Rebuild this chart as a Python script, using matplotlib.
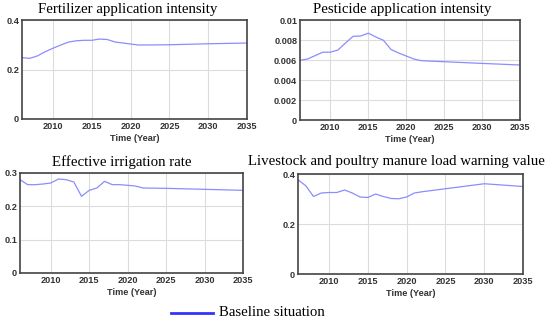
import matplotlib.pyplot as plt

years = [2006, 2007, 2008, 2009, 2010, 2011, 2012, 2013, 2014, 2015, 2016,
         2017, 2018, 2019, 2020, 2021, 2022, 2025, 2030, 2035]

fertilizer = [0.248, 0.245, 0.255, 0.272, 0.286, 0.299, 0.311, 0.316, 0.318, 0.318, 0.323,
              0.321, 0.311, 0.307, 0.303, 0.299, 0.299, 0.300, 0.304, 0.307]
pesticide = [0.00597, 0.0061, 0.00644, 0.00678, 0.00678, 0.0070, 0.0077, 0.00837, 0.0084, 0.00868, 0.0083,
             0.00797, 0.00705, 0.0067, 0.0064, 0.0061, 0.00593, 0.00583, 0.00566, 0.0055]
irrigation = [0.280, 0.265, 0.265, 0.267, 0.270, 0.282, 0.280, 0.273, 0.230, 0.248, 0.255,
              0.275, 0.265, 0.265, 0.263, 0.261, 0.255, 0.254, 0.251, 0.248]
livestock = [0.377, 0.353, 0.310, 0.324, 0.326, 0.326, 0.336, 0.324, 0.308, 0.306, 0.320,
             0.310, 0.302, 0.301, 0.308, 0.324, 0.329, 0.341, 0.361, 0.350]

titles = ["Fertilizer application intensity", "Pesticide application intensity",
          "Effective irrigation rate", "Livestock and poultry manure load warning value"]
yticks = [[0, 0.2, 0.4],
          [0, 0.002, 0.004, 0.006, 0.008, 0.01],
          [0, 0.1, 0.2, 0.3],
          [0, 0.2, 0.4]]
ytick_labels = [["0", "0.2", "0.4"],
                ["0", "0.002", "0.004", "0.006", "0.008", "0.01"],
                ["0", "0.1", "0.2", "0.3"],
                ["0", "0.2", "0.4"]]
xticks = [2010, 2015, 2020, 2025, 2030, 2035]
series = [fertilizer, pesticide, irrigation, livestock]

W, H = 550, 323
fig = plt.figure(figsize=(W / 100, H / 100), dpi=100)

# axes boxes in pixels: left, top, right, bottom
boxes = [(22, 20, 247, 119), (300, 20, 520, 120), (20, 173, 243, 273), (298, 174, 523, 274)]
title_pos = [(128, 9), (402, 10), (122, 162), (396, 162)]

for i in range(4):
    l, t, r, b = boxes[i]
    ax = fig.add_axes([l / W, 1 - b / H, (r - l) / W, (b - t) / H])
    ax.plot(years, series[i], color="#8c8cff", lw=0.9)
    ax.set_xlim(2006, 2035)
    ax.set_ylim(yticks[i][0], yticks[i][-1])
    ax.set_xticks(xticks)
    ax.set_yticks(yticks[i])
    ax.set_yticklabels(ytick_labels[i])
    ax.grid(True, color="#dcdcdc", lw=0.8)
    ax.tick_params(length=0, pad=2, labelsize=6.6, labelcolor="#333333")
    for lab in ax.get_xticklabels() + ax.get_yticklabels():
        lab.set_family("Liberation Sans")
        lab.set_fontweight("bold")
    ax.set_xlabel("Time (Year)", fontsize=6.6, family="Liberation Sans", fontweight="bold",
                  color="#333333", labelpad=2)
    for s in ax.spines.values():
        s.set_color("#444444")
        s.set_linewidth(1.2)
    tx, ty = title_pos[i]
    fig.text(tx / W, 1 - ty / H, titles[i], ha="center", va="center",
             family="Liberation Serif", fontsize=10.7)

# legend
fig.lines.append(plt.Line2D([171 / W, 213 / W], [1 - 313 / H, 1 - 313 / H],
                            transform=fig.transFigure, color="#3333ff", lw=2))
fig.text(219 / W, 1 - 313 / H, "Baseline situation", ha="left", va="center",
         family="Liberation Serif", fontsize=10.6)

fig.savefig("out.png", dpi=100)
